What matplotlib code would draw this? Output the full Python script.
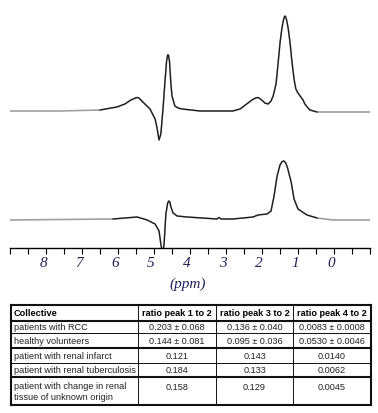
import numpy as np
import matplotlib.pyplot as plt
import matplotlib.transforms as mtransforms

# spectrum 1 (top), chemical shift in ppm and intensity above baseline
ppm_top = [9.0, 7.61, 6.5, 6.03, 5.81, 5.64, 5.52, 5.47, 5.42, 5.31, 5.11, 4.97, 4.92,
           4.86, 4.81, 4.75, 4.69, 4.65, 4.62, 4.6, 4.57, 4.53, 4.5, 4.42, 4.33, 4.22,
           3.72, 2.81, 2.61, 2.5, 2.39, 2.28, 2.18, 2.12, 2.06, 1.98, 1.92, 1.83, 1.75,
           1.69, 1.61, 1.56, 1.5, 1.45, 1.41, 1.38, 1.36, 1.34, 1.31, 1.27, 1.22, 1.17,
           1.11, 1.06, 1.0, 0.94, 0.86, 0.81, 0.72, 0.67, 0.47, -1.0]
int_top = [0, 0, 1, 4, 7, 11, 13, 13.5, 13, 9, 2, -8, -16,
           -29, -23, 2, 32, 50, 56, 56, 50, 27, 15, 5, 3, 2,
           0, 0, 2, 5, 8, 11, 13, 13.5, 12.5, 10, 8, 7, 10,
           15, 27, 45, 68, 82, 90, 94, 95, 94, 90, 82, 68, 50,
           32, 22, 18, 15, 11, 7, 3, 1, -1, -1]

# spectrum 2 (bottom)
ppm_bot = [9.0, 6.14, 5.81, 5.47, 5.19, 4.97, 4.86, 4.81, 4.76, 4.72, 4.67, 4.62,
           4.59, 4.56, 4.53, 4.47, 4.36, 4.08, 3.25, 3.19, 3.14, 2.81, 2.25, 2.11, 1.86,
           1.75, 1.67, 1.58, 1.5, 1.44, 1.39, 1.34, 1.29, 1.19, 1.11, 1.0, 0.75, 0.47,
           0.03, -1.0]
int_bot = [0, 1, 2, 3, 0, -4, -11, -24, -34, -24, 6, 17,
           19, 18, 13, 7, 4, 3, 1, 2.5, 1, 1, 3, 5, 6,
           9, 23, 44, 55, 58.5, 59, 57, 52, 38, 21, 11, 5, 2,
           0, 0]

tick_ppm = [-1, 0, 1, 2, 3, 4, 5, 6, 7, 8, 9]
tick_lab = ['', '0', '1', '2', '3', '4', '5', '6', '7', '8', '']

columns = ['Collective', 'ratio peak 1 to 2', 'ratio peak 3 to 2', 'ratio peak 4 to 2']
groups = ['patients with RCC', 'healthy volunteers', 'patient with renal infarct',
          'patient with renal tuberculosis',
          'patient with change in renal\ntissue of unknown origin']
ratio_1_2 = ['0.203 \u00b1 0.068', '0.144 \u00b1 0.081', '0.121', '0.184', '0.158']
ratio_3_2 = ['0.136 \u00b1 0.040', '0.095 \u00b1 0.036', '0.143', '0.133', '0.129']
ratio_4_2 = ['0.0083 \u00b1 0.0008', '0.0530 \u00b1 0.0046', '0.0140', '0.0062', '0.0045']

W, H = 378, 414
fig = plt.figure(figsize=(W / 100, H / 100), dpi=100)

# spectra
ax = fig.add_axes([10 / W, (H - 249) / H, 360 / W, 249 / H])
ax.set_xlim(9, -1)
ax.set_ylim(0, 249)
for ppm, val, off in [(ppm_top, int_top, 137), (ppm_bot, int_bot, 28)]:
    p = np.array(ppm)
    v = np.array(val) + off
    ax.plot(p, v, color='#a0a0a0', lw=1.2)
    m = (p <= 6.6) & (p >= 0.4)
    ax.plot(p[m], v[m], color='#1a1a1a', lw=0.9)
for s in ['top', 'left', 'right']:
    ax.spines[s].set_visible(False)
ax.spines['bottom'].set_linewidth(1.0)
ax.set_yticks([])
ax.set_xticks(tick_ppm)
ax.set_xticklabels(tick_lab, fontfamily='Liberation Serif', style='italic',
                   fontsize=11, color='#20205a')
ax.set_xticks(np.arange(-0.5, 9, 1), minor=True)
ax.tick_params(axis='x', which='both', direction='out', length=4, width=0.8, pad=2)
shift = mtransforms.ScaledTranslation(-3 / 100, 0, fig.dpi_scale_trans)
for lab in ax.get_xticklabels():
    lab.set_transform(lab.get_transform() + shift)
fig.text(188 / W, 1 - 284 / H, '(ppm)', fontfamily='Liberation Serif', style='italic',
         fontsize=11, color='#20205a', ha='center', va='center')

# table
tx = fig.add_axes([0, 0, 1, 1])
tx.set_xlim(0, W)
tx.set_ylim(H, 0)
tx.axis('off')
row_y = [306, 322, 334, 349, 364, 378, 406]
thick = [True, True, False, True, False, True, True]
col_x = [11, 138, 216, 293, 371]
for y, t in zip(row_y, thick):
    tx.plot([col_x[0], col_x[-1]], [y, y], color='#111111', lw=1.5 if t else 0.7,
            solid_capstyle='projecting')
for i, x in enumerate(col_x):
    t = i in (0, len(col_x) - 1)
    tx.plot([x, x], [row_y[0], row_y[-1]], color='#111111', lw=1.5 if t else 0.7,
            solid_capstyle='projecting')

fs = 6.6
fs_head = 6.6
font = 'Liberation Sans'
hy = (row_y[0] + row_y[1]) / 2
tx.text(col_x[0] + 3, hy, columns[0], ha='left', va='center', fontsize=fs_head,
        fontfamily=font, fontweight='bold')
for j in range(1, 4):
    tx.text((col_x[j] + col_x[j + 1]) / 2, hy, columns[j], ha='center', va='center',
            fontsize=fs_head, fontfamily=font, fontweight='bold')
for i, g in enumerate(groups):
    if i < 4:
        y = (row_y[i + 1] + row_y[i + 2]) / 2
        tx.text(col_x[0] + 3, y, g, ha='left', va='center', fontsize=fs, fontfamily=font,
                color='#222222')
    else:
        y = row_y[5] + 10
        tx.text(col_x[0] + 3, row_y[5] + 4, g, ha='left', va='top', fontsize=fs,
                fontfamily=font, linespacing=1.35, color='#222222')
    for j, vals in enumerate([ratio_1_2, ratio_3_2, ratio_4_2]):
        tx.text((col_x[j + 1] + col_x[j + 2]) / 2, y, vals[i], ha='center', va='center',
                fontsize=fs, fontfamily=font, color='#222222')

fig.savefig('out.png', dpi=100)
